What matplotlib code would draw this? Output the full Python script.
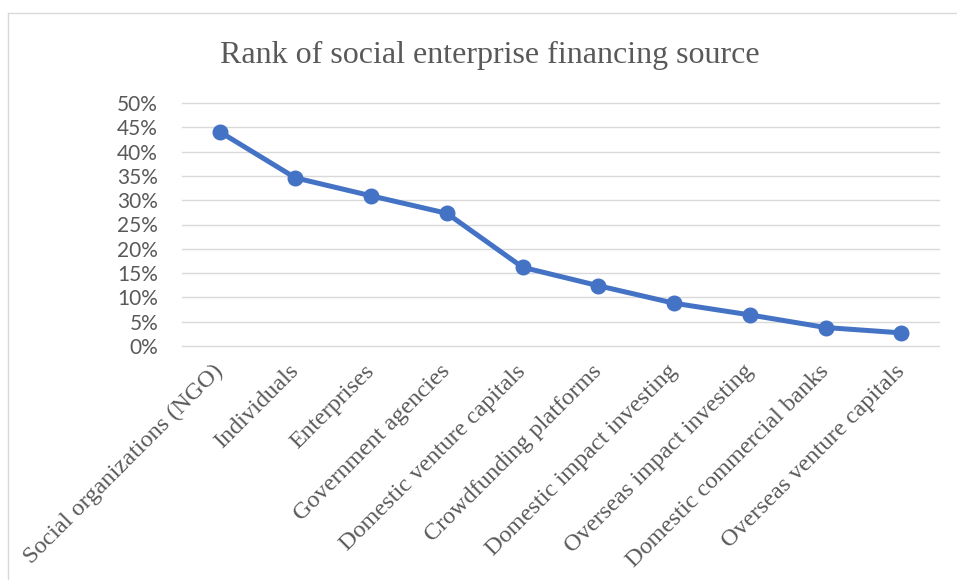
import matplotlib
matplotlib.use("Agg")
import matplotlib.pyplot as plt
from matplotlib.lines import Line2D
from matplotlib.ticker import PercentFormatter, MultipleLocator

categories = [
    "Social organizations (NGO)", "Individuals", "Enterprises",
    "Government agencies", "Domestic venture capitals",
    "Crowdfunding platforms", "Domestic impact investing",
    "Overseas impact investing", "Domestic commercial banks",
    "Overseas venture capitals",
]
values = [0.441, 0.346, 0.309, 0.273, 0.162, 0.124, 0.088, 0.064, 0.038, 0.027]
title = "Rank of social enterprise financing source"

W, H = 957, 580
fig = plt.figure(figsize=(W / 100, H / 100), dpi=100)
fig.patch.set_facecolor("white")

# chart area border (top and left visible)
fig.add_artist(Line2D([8 / W, 1.0], [1 - 13 / H, 1 - 13 / H], color="#D9D9D9", lw=1.0))
fig.add_artist(Line2D([8 / W, 8 / W], [0, 1 - 13 / H], color="#D9D9D9", lw=1.0))

left, right = 181.7 / W, 939.3 / W
bottom, top = 1 - 346 / H, 1 - 103 / H
ax = fig.add_axes([left, bottom, right - left, top - bottom])

x = list(range(len(categories)))
ax.plot(x, values, color="#4472C4", lw=3.6, marker="o", markersize=10.5,
        solid_capstyle="round", zorder=3)

ax.set_xlim(-0.5, len(categories) - 0.5)
ax.set_ylim(0, 0.5)
ax.yaxis.set_major_locator(MultipleLocator(0.05))
ax.yaxis.set_major_formatter(PercentFormatter(1.0, decimals=0))
ax.grid(axis="y", color="#D9D9D9", lw=1.0)
for gl in ax.get_ygridlines():
    gl.set_clip_on(False)
ax.set_axisbelow(True)
for s in ax.spines.values():
    s.set_visible(False)
ax.tick_params(axis="both", length=0)
ax.tick_params(axis="y", pad=17, labelsize=15, labelcolor="#595959")
for lab in ax.get_yticklabels():
    lab.set_fontfamily("Lato")

ax.set_xticks(x)
ax.set_xticklabels(categories, rotation=45, ha="right", va="center",
                   rotation_mode="anchor", fontfamily="Liberation Serif",
                   fontsize=17.5, color="#595959")
ax.tick_params(axis="x", pad=16)

fig.text(490 / W, 1 - 55 / H, title, ha="center", va="center",
         fontfamily="Liberation Serif", fontsize=23, color="#595959")

fig.savefig("out.png", dpi=100, facecolor="white")
